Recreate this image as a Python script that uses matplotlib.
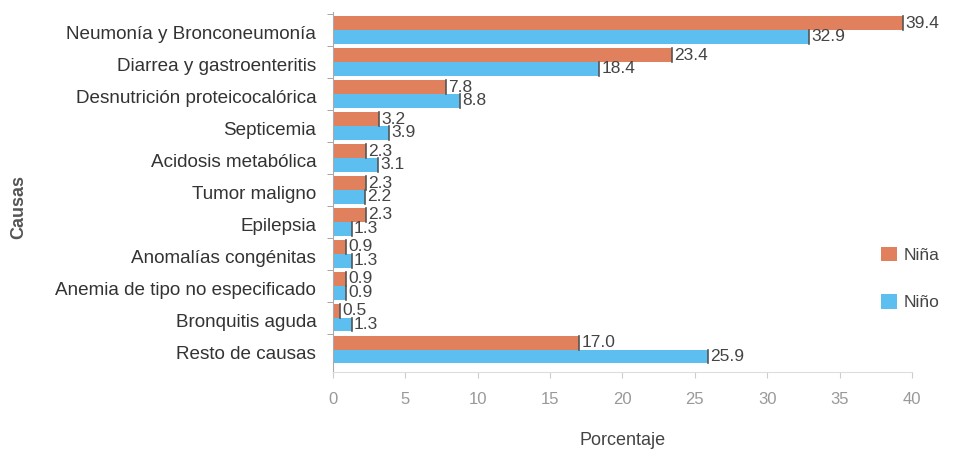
import matplotlib.pyplot as plt
import numpy as np

causas = ['Neumonía y Bronconeumonía', 'Diarrea y gastroenteritis', 'Desnutrición proteicocalórica',
          'Septicemia', 'Acidosis metabólica', 'Tumor maligno', 'Epilepsia',
          'Anomalías congénitas', 'Anemia de tipo no especificado', 'Bronquitis aguda',
          'Resto de causas']
nina = [39.4, 23.4, 7.8, 3.2, 2.3, 2.3, 2.3, 0.9, 0.9, 0.5, 17.0]
nino = [32.9, 18.4, 8.8, 3.9, 3.1, 2.2, 1.3, 1.3, 0.9, 1.3, 25.9]

plt.rcParams['font.family'] = ['Liberation Sans', 'DejaVu Sans']

fig = plt.figure(figsize=(9.54, 4.51), dpi=100)
ax = fig.add_axes([0.349, 0.175, 0.607, 0.798])

y = np.arange(len(causas))
h = 0.43
c_nina = '#E0805C'
c_nino = '#5CBFEF'
b1 = ax.barh(y - h / 2, nina, height=h, color=c_nina, label='Niña')
b2 = ax.barh(y + h / 2, nino, height=h, color=c_nino, label='Niño')

for yy, v in zip(y - h / 2, nina):
    ax.plot([v, v], [yy - h / 2, yy + h / 2], color='#555555', lw=1.2)
    ax.text(v + 0.15, yy, f'{v:.1f}', va='center', ha='left', fontsize=12.5, color='#444444')
for yy, v in zip(y + h / 2, nino):
    ax.plot([v, v], [yy - h / 2, yy + h / 2], color='#555555', lw=1.2)
    ax.text(v + 0.15, yy, f'{v:.1f}', va='center', ha='left', fontsize=12.5, color='#444444')

ax.set_xlim(0, 40)
ax.set_ylim(10.7, -0.56)
ax.set_yticks(y + 0.08)
ax.set_yticklabels(causas, fontsize=13.6, color='#333333')
ax.set_yticks(np.arange(len(causas)) - 0.5, minor=True)
ax.tick_params(axis='y', which='major', length=0, pad=12)
ax.tick_params(axis='y', which='minor', color='#999999', length=4)
ax.set_xticks(np.arange(0, 41, 5))
ax.tick_params(axis='x', labelsize=12, labelcolor='#999999', color='#cccccc', length=4, pad=10)
for s in ['top', 'right']:
    ax.spines[s].set_visible(False)
ax.spines['left'].set_color('#aaaaaa')
ax.spines['bottom'].set_color('#dddddd')

ax.set_xlabel('Porcentaje', fontsize=13, color='#444444', labelpad=18)
fig.text(0.02, 0.54, 'Causas', rotation=90, fontsize=13, fontweight='bold',
         color='#555555', va='center', ha='center')

ax.legend(handles=[b1, b2], loc='center left', bbox_to_anchor=(0.935, 0.26), frameon=False,
          fontsize=12.5, handlelength=0.9, handleheight=0.9, labelspacing=1.8,
          handletextpad=0.4, borderaxespad=0, labelcolor='#444444')

fig.savefig('out.png', dpi=100, facecolor='white')
